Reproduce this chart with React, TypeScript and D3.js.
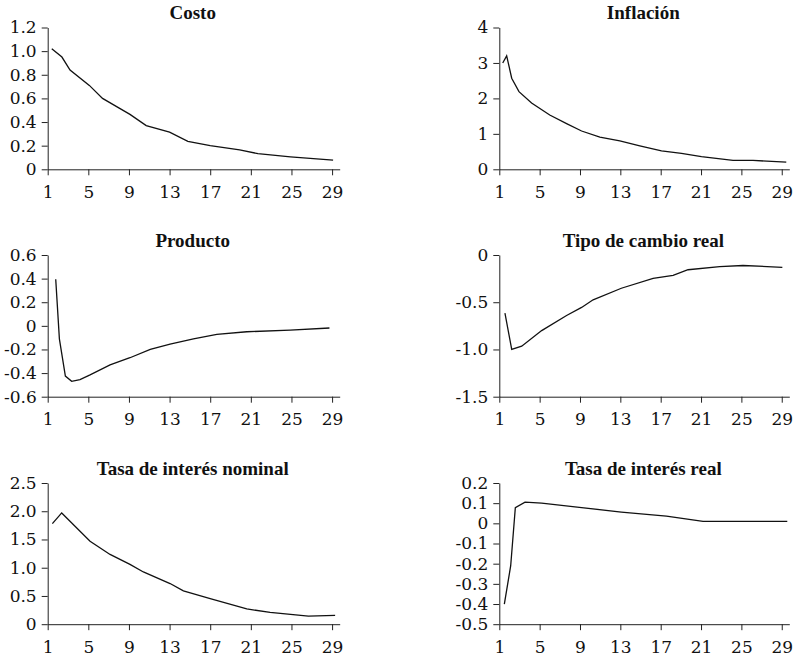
import React from 'react';
import * as d3 from 'd3';

// periods shown on every x axis
const xTicks = [1, 5, 9, 13, 17, 21, 25, 29];

// Costo
const costoX = [1.4, 2.4, 3.2, 5.1, 6.4, 8.0, 9.1, 10.7, 13.0, 14.8, 17.0, 19.9, 21.7, 24.9, 29.1];
const costoY = [1.02, 0.95, 0.84, 0.71, 0.60, 0.52, 0.465, 0.37, 0.314, 0.237, 0.20, 0.165, 0.132, 0.106, 0.077];
const costoTicks = [0, 0.2, 0.4, 0.6, 0.8, 1.0, 1.2];

// Inflación
const inflX = [1.34, 1.73, 2.23, 2.95, 4.2, 6.0, 7.67, 9.16, 10.97, 12.95, 14.93, 17.08, 19.06, 21.04, 24.17, 26.15, 29.45];
const inflY = [3.0, 3.2, 2.57, 2.19, 1.87, 1.53, 1.29, 1.08, 0.91, 0.80, 0.66, 0.52, 0.45, 0.36, 0.25, 0.25, 0.2];
const inflTicks = [0, 1, 2, 3, 4];

// Producto
const prodX = [1.79, 2.15, 2.74, 3.36, 4.18, 5.17, 7.14, 9.1, 11.1, 13.05, 15.35, 17.65, 20.6, 24.87, 28.74];
const prodY = [0.394, -0.11, -0.425, -0.47, -0.455, -0.415, -0.33, -0.27, -0.2, -0.155, -0.11, -0.072, -0.05, -0.036, -0.018];
const prodTicks = [-0.6, -0.4, -0.2, 0, 0.2, 0.4, 0.6];

// Tipo de cambio real
const tcX = [1.56, 2.23, 3.22, 5.2, 7.67, 9.16, 10.3, 13.1, 16.25, 18.23, 19.71, 22.85, 25.16, 29.06];
const tcY = [-0.615, -1.0, -0.965, -0.80, -0.64, -0.555, -0.474, -0.352, -0.248, -0.215, -0.156, -0.122, -0.111, -0.13];
const tcTicks = [-1.5, -1.0, -0.5, 0];

// Tasa de interés nominal
const tnX = [1.46, 2.38, 5.17, 7.14, 9.1, 10.42, 13.05, 14.36, 17.0, 20.6, 22.9, 26.67, 29.3];
const tnY = [1.78, 1.97, 1.47, 1.235, 1.06, 0.925, 0.72, 0.59, 0.455, 0.27, 0.21, 0.143, 0.156];
const tnTicks = [0, 0.5, 1.0, 1.5, 2.0, 2.5];

// Tasa de interés real
const trX = [1.5, 2.13, 2.59, 3.55, 5.2, 9.16, 13.1, 17.57, 21.2, 29.55];
const trY = [-0.4, -0.21, 0.078, 0.105, 0.10, 0.078, 0.056, 0.036, 0.01, 0.01];
const trTicks = [-0.5, -0.4, -0.3, -0.2, -0.1, 0, 0.1, 0.2];

const oneDec = (v: number) => (Math.abs(v) < 1e-9 ? '0' : v.toFixed(1));
const noDec = (v: number) => v.toFixed(0);

const panels = [
  { title: 'Costo', xs: costoX, ys: costoY, ticks: costoTicks, fmt: oneDec, col: 0, row: 0 },
  { title: 'Inflación', xs: inflX, ys: inflY, ticks: inflTicks, fmt: noDec, col: 1, row: 0 },
  { title: 'Producto', xs: prodX, ys: prodY, ticks: prodTicks, fmt: oneDec, col: 0, row: 1 },
  { title: 'Tipo de cambio real', xs: tcX, ys: tcY, ticks: tcTicks, fmt: oneDec, col: 1, row: 1 },
  { title: 'Tasa de interés nominal', xs: tnX, ys: tnY, ticks: tnTicks, fmt: oneDec, col: 0, row: 2 },
  { title: 'Tasa de interés real', xs: trX, ys: trY, ticks: trTicks, fmt: oneDec, col: 1, row: 2 },
];

const App = () => {
  const svgRef = React.useRef<SVGSVGElement>(null);

  const W = 797;
  const H = 658;
  const cols = [{ left: 47.7, width: 292 }, { left: 499.3, width: 290 }];
  const rows = [{ top: 27.5, bottom: 169.3 }, { top: 255, bottom: 396.7 }, { top: 483, bottom: 624.2 }];

  React.useEffect(() => {
    const svg = d3.select(svgRef.current);
    svg.selectAll('*').remove();

    panels.forEach((p) => {
      const c = cols[p.col];
      const r = rows[p.row];
      const g = svg.append('g');

      const x = d3.scaleLinear().domain([1, 29.75]).range([c.left, c.left + c.width]);
      const y = d3.scaleLinear().domain(d3.extent(p.ticks) as [number, number]).range([r.bottom, r.top]);

      // x axis
      g.append('g')
        .attr('transform', `translate(0,${r.bottom})`)
        .call(d3.axisBottom(x).tickValues(xTicks).tickFormat((d) => String(d)).tickSizeOuter(0).tickPadding(10.5))
        .call((a) => a.selectAll('text').style('font-family', 'DejaVu Serif').style('font-size', '17px').attr('fill', '#111'));

      // y axis
      g.append('g')
        .attr('transform', `translate(${c.left},0)`)
        .call(d3.axisLeft(y).tickValues(p.ticks).tickFormat((d) => p.fmt(+d)).tickSizeOuter(0).tickPadding(5))
        .call((a) => a.selectAll('text').style('font-family', 'DejaVu Serif').style('font-size', '17px').attr('fill', '#111'));

      g.selectAll('.domain, .tick line').attr('stroke', '#222');

      const pts = p.xs.map((v, i) => [v, p.ys[i]] as [number, number]);
      g.append('path')
        .datum(pts)
        .attr('fill', 'none')
        .attr('stroke', '#111')
        .attr('stroke-width', 1.3)
        .attr('d', d3.line().x((d) => x(d[0])).y((d) => y(d[1])));

      g.append('text')
        .attr('x', c.left + c.width / 2 - 1)
        .attr('y', r.top - 8.5)
        .attr('text-anchor', 'middle')
        .style('font-family', 'Liberation Serif')
        .style('font-weight', 'bold')
        .style('font-size', '19px')
        .attr('fill', '#111')
        .text(p.title);
    });
  // eslint-disable-next-line react-hooks/exhaustive-deps
  }, []);

  return (
    <svg
      ref={svgRef}
      width={W}
      height={H}
      style={{ position: 'absolute', left: 0, top: 0, background: '#fff' }}
    />
  );
};

export default App;
